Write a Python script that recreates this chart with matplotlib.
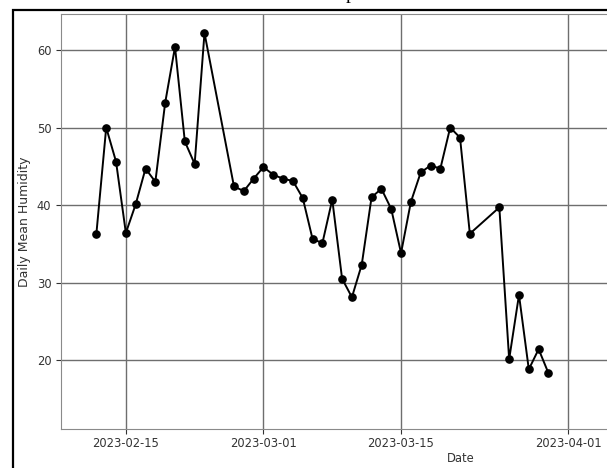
import numpy as np
import matplotlib
matplotlib.use("Agg")
import matplotlib.pyplot as plt
import matplotlib.dates as mdates
from matplotlib.patches import Rectangle

# daily mean humidity
dates = np.array([
    "2023-02-12", "2023-02-13", "2023-02-14", "2023-02-15", "2023-02-16",
    "2023-02-17", "2023-02-18", "2023-02-19", "2023-02-20", "2023-02-21",
    "2023-02-22", "2023-02-23", "2023-02-26", "2023-02-27", "2023-02-28",
    "2023-03-01", "2023-03-02", "2023-03-03", "2023-03-04", "2023-03-05",
    "2023-03-06", "2023-03-07", "2023-03-08", "2023-03-09", "2023-03-10",
    "2023-03-11", "2023-03-12", "2023-03-13", "2023-03-14", "2023-03-15",
    "2023-03-16", "2023-03-17", "2023-03-18", "2023-03-19", "2023-03-20",
    "2023-03-21", "2023-03-22", "2023-03-25", "2023-03-26", "2023-03-27",
    "2023-03-28", "2023-03-29", "2023-03-30",
], dtype="datetime64[D]")
humidity = [
    36.3, 50.0, 45.6, 36.4, 40.1,
    44.7, 43.0, 53.2, 60.4, 48.2,
    45.3, 62.2, 42.4, 41.8, 43.4,
    44.9, 43.9, 43.4, 43.1, 40.9,
    35.6, 35.1, 40.7, 30.5, 28.1,
    32.3, 41.0, 42.1, 39.5, 33.8,
    40.4, 44.2, 45.1, 44.7, 50.0,
    48.7, 36.3, 39.7, 20.1, 28.4,
    18.8, 21.4, 18.3,
]
yticks = [20, 30, 40, 50, 60]
xticks = ["2023-02-15", "2023-03-01", "2023-03-15", "2023-04-01"]

W, H = 607, 468
fig = plt.figure(figsize=(W / 100, H / 100), dpi=100)
fig.patch.set_facecolor("white")

# the original figure is wider than this crop: axes run off the right edge
left, bottom, top, right = 61, 429, 14, 861
ax = fig.add_axes([left / W, (H - bottom) / H, (right - left) / W, (bottom - top) / H])

x = dates.astype("datetime64[s]").astype(object)
ax.plot(x, humidity, "o-", color="black", lw=1.4, ms=5.2)

d0 = mdates.date2num(np.datetime64("2023-02-15"))
ax.set_xlim(d0 - 6.6, d0 + 74.8)
ax.set_ylim(11.1, 64.65)
ax.set_yticks(yticks)
ax.set_xticks([mdates.date2num(np.datetime64(t)) for t in xticks])
ax.xaxis.set_major_formatter(mdates.DateFormatter("%Y-%m-%d"))

ax.grid(True, color="#6e6e6e", lw=1.0)
for s in ax.spines.values():
    s.set_color("#8a8a8a")
ax.tick_params(labelsize=8.3, colors="#333333", length=3.5)
ax.tick_params(axis="x", pad=2.5)
ax.set_xlabel("Date", fontsize=8.3, color="#333333", labelpad=1)
ax.set_ylabel("Daily Mean Humidity", fontsize=9, color="#333333")

# black frame around the embedded figure, and the clipped title
fig.add_artist(Rectangle((13 / W, -0.2), 2.0, 1.2 - 10 / H, transform=fig.transFigure,
                         fill=False, lw=1.6, ec="black"))
fig.text(350 / W, 1 + 1 / H, "p", family="Liberation Serif", fontsize=14,
         ha="center", va="baseline")

fig.savefig("out.png", dpi=100)
